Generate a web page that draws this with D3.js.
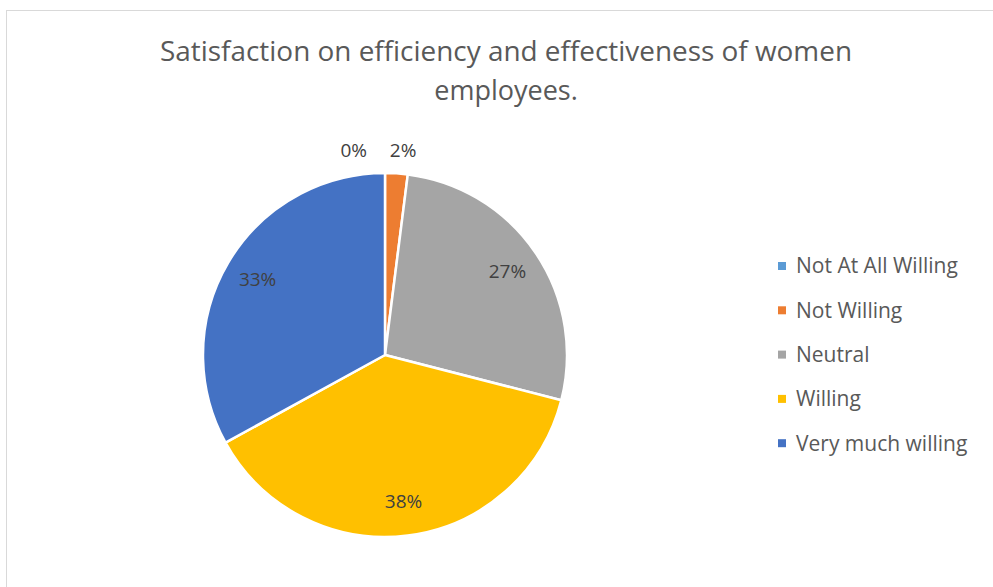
<!DOCTYPE html>
<html>
<head>
<meta charset="utf-8">
<script src="https://cdn.jsdelivr.net/npm/d3@7"></script>
<style>
  body { margin: 0; background: #fff; }
  svg { display: block; font-family: "Open Sans", "Noto Sans", sans-serif; }
</style>
</head>
<body>
<svg id="chart" width="993" height="587"></svg>
<script>
// podatki (delež v %)
var categories = ["Not At All Willing", "Not Willing", "Neutral", "Willing", "Very much willing"];
var shares = [0, 2, 27, 38, 33];
var labels = ["0%", "2%", "27%", "38%", "33%"];
var colors = ["#5B9BD5", "#ED7D31", "#A5A5A5", "#FFC000", "#4472C4"];
var titleLines = ["Satisfaction on efficiency and effectiveness of women", "employees."];

var svg = d3.select("#chart");

// okvir
svg.append("rect")
  .attr("x", 6.5).attr("y", 10.5)
  .attr("width", 1000).attr("height", 600)
  .attr("fill", "#fff")
  .attr("stroke", "#d9d9d9")
  .attr("stroke-width", 1);

// naslov
svg.append("g").selectAll("text")
  .data(titleLines)
  .enter().append("text")
  .attr("x", 506)
  .attr("y", (d, i) => 61 + i * 39)
  .attr("text-anchor", "middle")
  .attr("font-size", 27)
  .attr("fill", "#595959")
  .attr("textLength", (d, i) => i == 0 ? 692 : null)
  .attr("lengthAdjust", "spacingAndGlyphs")
  .text(d => d);

var cx = 385, cy = 355, r = 182;

var pie = d3.pie().sort(null).value(d => d);
var arcs = pie(shares);

var arc = d3.arc().innerRadius(0).outerRadius(r);
var labelArc = d3.arc().innerRadius(148).outerRadius(148);
var outerArc = d3.arc().innerRadius(205).outerRadius(205);

var g = svg.append("g").attr("transform", `translate(${cx},${cy})`);

g.selectAll("path")
  .data(arcs)
  .enter().append("path")
  .attr("d", arc)
  .attr("fill", (d, i) => colors[i])
  .attr("stroke", "#fff")
  .attr("stroke-width", 2.5)
  .attr("stroke-linejoin", "round");

// oznake - majhne izven, ostale znotraj
g.selectAll("text.lbl")
  .data(arcs)
  .enter().append("text")
  .attr("class", "lbl")
  .attr("transform", function(d) {
    var small = (d.endAngle - d.startAngle) < 0.3;
    var p = small ? outerArc.centroid(d) : labelArc.centroid(d);
    if (small) {
      // 0% levo, 2% desno kot v excelu
      p[0] += d.value === 0 ? -18 : -8;
    }
    return `translate(${p[0]},${p[1]})`;
  })
  .attr("text-anchor", d => (d.endAngle - d.startAngle) < 0.3 ? (d.value === 0 ? "end" : "start") : "middle")
  .attr("dy", "0.35em")
  .attr("font-size", 19)
  .attr("fill", "#404040")
  .text((d, i) => labels[i]);

// legenda
var legend = svg.append("g").attr("transform", "translate(778,266)");
var items = legend.selectAll("g")
  .data(categories)
  .enter().append("g")
  .attr("transform", (d, i) => `translate(0,${i * 44.3})`);

items.append("rect")
  .attr("x", 0).attr("y", -4)
  .attr("width", 8).attr("height", 8)
  .attr("fill", (d, i) => colors[i]);

items.append("text")
  .attr("x", 18)
  .attr("dy", "0.35em")
  .attr("font-size", 21)
  .attr("fill", "#595959")
  .text(d => d);
</script>
</body>
</html>
